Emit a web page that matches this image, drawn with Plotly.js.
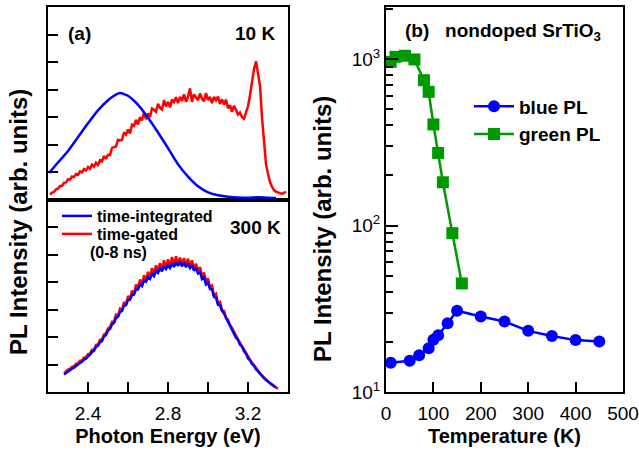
<!DOCTYPE html>
<html>
<head>
<meta charset="utf-8">
<script src="https://cdn.plot.ly/plotly-3.0.1.min.js"></script>
<style>html,body{margin:0;padding:0;background:#fff;}#chart{width:639px;height:453px;}</style>
</head>
<body>
<div id="chart"></div>
<script>
// ---- Panel (a), 10 K ----
const energy10KBlue = [2.205,2.25,2.30,2.35,2.40,2.45,2.50,2.53,2.56,2.58,2.60,2.63,2.66,2.70,2.75,2.80,2.85,2.90,2.95,3.00,3.05,3.10,3.15,3.20,3.25,3.30,3.34];
const pl10KBlue = [0.98,1.36,1.78,2.28,2.78,3.25,3.62,3.78,3.88,3.84,3.78,3.60,3.37,2.98,2.45,1.88,1.30,0.85,0.50,0.28,0.17,0.12,0.09,0.08,0.10,0.08,0.07];

const energy10KRed = [2.21,2.22,2.23,2.24,2.25,2.26,2.27,2.28,2.29,2.30,2.31,2.32,2.33,2.34,2.35,2.36,2.37,2.38,2.39,2.40,
2.41,2.42,2.43,2.44,2.45,2.46,2.47,2.48,2.49,2.50,2.51,2.52,2.53,2.54,2.55,2.56,2.57,2.58,2.59,2.60,
2.61,2.62,2.63,2.64,2.65,2.66,2.67,2.68,2.69,2.70,2.71,2.72,2.73,2.74,2.75,2.76,2.77,2.78,2.79,2.80,
2.81,2.82,2.83,2.84,2.85,2.86,2.87,2.88,2.89,2.90,2.91,2.92,2.93,2.94,2.95,2.96,2.97,2.98,2.99,3.00,
3.01,3.02,3.03,3.04,3.05,3.06,3.07,3.08,3.09,3.10,3.11,3.12,3.13,3.14,3.15,3.16,3.17,3.18,3.19,3.20,
3.21,3.22,3.23,3.24,3.25,3.26,3.27,3.28,3.29,3.30,3.31,3.32,3.33,3.34,3.35,3.36,3.37,3.38,3.39];
const pl10KRed = [0.20,0.27,0.29,0.39,0.41,0.51,0.51,0.62,0.64,0.75,0.74,0.85,0.83,0.94,0.91,1.04,1.00,1.12,1.07,1.20,
1.13,1.28,1.21,1.35,1.27,1.44,1.40,1.60,1.49,1.64,1.63,1.89,1.92,1.94,2.18,2.16,2.18,2.45,2.37,2.56,
2.41,2.73,2.69,2.91,2.74,3.00,2.89,3.16,2.93,3.14,3.00,3.32,3.27,3.20,3.49,3.34,3.28,3.62,3.39,3.56,
3.36,3.64,3.55,3.73,3.51,3.74,3.59,3.83,3.56,3.74,4.05,3.56,3.83,3.74,3.62,3.86,3.67,3.58,3.88,3.62,
3.74,3.51,3.74,3.62,3.75,3.48,3.65,3.46,3.64,3.33,3.44,3.20,3.42,3.27,3.10,3.17,3.00,2.95,3.20,3.40,
3.80,4.30,4.75,5.03,4.60,4.15,3.00,2.16,1.30,0.95,0.65,0.48,0.36,0.30,0.27,0.24,0.22,0.26,0.30];

// ---- Panel (a), 300 K ----
const energy300KBlue = [2.28,2.29,2.30,2.31,2.32,2.33,2.34,2.35,2.36,2.37,2.38,2.39,2.40,2.41,2.42,2.43,2.44,2.45,2.46,2.47,
2.48,2.49,2.50,2.51,2.52,2.53,2.54,2.55,2.56,2.57,2.58,2.59,2.60,2.61,2.62,2.63,2.64,2.65,2.66,2.67,
2.68,2.69,2.70,2.71,2.72,2.73,2.74,2.75,2.76,2.77,2.78,2.79,2.80,2.81,2.82,2.83,2.84,2.85,2.86,2.87,
2.88,2.89,2.90,2.91,2.92,2.93,2.94,2.95,2.96,2.97,2.98,2.99,3.00,3.01,3.02,3.03,3.04,3.05,3.06,3.07,
3.08,3.09,3.10,3.11,3.12,3.13,3.14,3.15,3.16,3.17,3.18,3.19,3.20,3.21,3.22,3.23,3.24,3.25,3.26,3.27,
3.28,3.29,3.30,3.31,3.32,3.33,3.34];
const pl300KBlue = [0.64,0.70,0.75,0.79,0.85,0.89,0.96,1.00,1.06,1.10,1.18,1.21,1.30,1.35,1.46,1.50,1.64,1.68,1.82,1.86,
2.02,2.08,2.24,2.30,2.46,2.52,2.70,2.74,2.92,2.96,3.14,3.16,3.35,3.36,3.54,3.55,3.75,3.74,3.92,3.86,
4.06,4.02,4.18,4.12,4.30,4.22,4.42,4.34,4.50,4.40,4.58,4.48,4.62,4.52,4.68,4.56,4.72,4.60,4.74,4.58,
4.72,4.55,4.68,4.52,4.62,4.42,4.52,4.32,4.38,4.12,4.18,3.92,3.98,3.76,3.74,3.46,3.44,3.18,3.16,2.96,
2.86,2.68,2.56,2.42,2.26,2.16,1.98,1.90,1.72,1.66,1.48,1.40,1.22,1.16,1.02,0.96,0.82,0.76,0.66,0.58,
0.50,0.44,0.38,0.32,0.26,0.21,0.16];

const energy300KRed = [2.28,2.29,2.30,2.31,2.32,2.33,2.34,2.35,2.36,2.37,2.38,2.39,2.40,2.41,2.42,2.43,2.44,2.45,2.46,2.47,
2.48,2.49,2.50,2.51,2.52,2.53,2.54,2.55,2.56,2.57,2.58,2.59,2.60,2.61,2.62,2.63,2.64,2.65,2.66,2.67,
2.68,2.69,2.70,2.71,2.72,2.73,2.74,2.75,2.76,2.77,2.78,2.79,2.80,2.81,2.82,2.83,2.84,2.85,2.86,2.87,
2.88,2.89,2.90,2.91,2.92,2.93,2.94,2.95,2.96,2.97,2.98,2.99,3.00,3.01,3.02,3.03,3.04,3.05,3.06,3.07,
3.08,3.09,3.10,3.11,3.12,3.13,3.14,3.15,3.16,3.17,3.18,3.19,3.20,3.21,3.22,3.23,3.24,3.25,3.26,3.27,
3.28,3.29,3.30,3.31,3.32,3.33,3.34,3.35];
const pl300KRed = [0.70,0.74,0.82,0.84,0.92,0.94,1.03,1.05,1.14,1.15,1.26,1.27,1.38,1.40,1.54,1.55,1.72,1.73,1.90,1.92,
2.10,2.14,2.32,2.36,2.56,2.56,2.82,2.78,3.04,2.98,3.28,3.18,3.50,3.38,3.70,3.56,3.92,3.76,4.10,3.90,
4.26,4.04,4.38,4.16,4.52,4.28,4.62,4.40,4.70,4.46,4.80,4.52,4.84,4.58,4.92,4.62,4.95,4.66,4.90,4.64,
4.88,4.62,4.86,4.58,4.80,4.48,4.68,4.38,4.56,4.20,4.36,4.00,4.14,3.82,3.88,3.52,3.58,3.22,3.28,2.98,
2.96,2.70,2.64,2.44,2.34,2.18,2.06,1.92,1.80,1.68,1.56,1.42,1.28,1.18,1.06,0.98,0.86,0.78,0.68,0.60,
0.52,0.45,0.38,0.32,0.26,0.21,0.16,0.12];

// ---- Panel (b) ----
const tempBlue = [10,50,70,90,100,110,130,150,200,250,300,350,400,450];
const intensityBlue = [15.0,15.4,16.6,18.3,20.6,21.9,25.9,30.8,28.4,26.5,23.3,21.7,20.5,20.1];
const tempGreen = [10,20,40,60,80,90,100,110,120,140,160];
const intensityGreen = [963,1032,1047,995,747,636,405,273,182,90,44.9];

const energyTickVals = [2.4, 2.8, 3.2];
const energyTickText = ['2.4', '2.8', '3.2'];
const logTickVals = [10, 100, 1000];
const logTickText = ['10<sup>1</sup>', '10<sup>2</sup>', '10<sup>3</sup>'];

const FONT = 'Liberation Sans, Arial, Helvetica, sans-serif';
const BLUE = '#0000ff', RED = '#ff0000', GREEN = '#009900';

const traces = [
  {x: energy10KRed, y: pl10KRed, xaxis: 'x2', yaxis: 'y2', mode: 'lines', line: {color: RED, width: 2.5}, showlegend: false},
  {x: energy10KBlue, y: pl10KBlue, xaxis: 'x2', yaxis: 'y2', mode: 'lines', line: {color: BLUE, width: 2.5, shape: 'spline'}, showlegend: false},
  {x: energy300KRed, y: pl300KRed, xaxis: 'x', yaxis: 'y', mode: 'lines', line: {color: RED, width: 2.5}, name: 'time-gated', legend: 'legend2'},
  {x: energy300KBlue, y: pl300KBlue, xaxis: 'x', yaxis: 'y', mode: 'lines', line: {color: BLUE, width: 2.5}, name: 'time-integrated', legend: 'legend'},
  {x: tempBlue, y: intensityBlue, xaxis: 'x3', yaxis: 'y3', mode: 'lines+markers', line: {color: BLUE, width: 2.5}, marker: {color: BLUE, size: 12, symbol: 'circle'}, name: 'blue PL', legend: 'legend3'},
  {x: tempGreen, y: intensityGreen, xaxis: 'x3', yaxis: 'y3', mode: 'lines+markers', line: {color: GREEN, width: 2.5}, marker: {color: GREEN, size: 12, symbol: 'square'}, name: 'green PL', legend: 'legend3'}
];

const px = v => v / 639;
const py = v => 1 - v / 453;

const baseAxis = {showline: true, linewidth: 2, linecolor: 'black', mirror: true, ticks: 'inside', ticklen: 10, tickwidth: 2, tickcolor: 'black', showgrid: false, zeroline: false, tickfont: {family: FONT, size: 19, color: 'black'}};

const layout = {
  width: 639, height: 453,
  margin: {l: 0, r: 0, t: 0, b: 0},
  paper_bgcolor: 'white', plot_bgcolor: 'white',
  font: {family: FONT, color: 'black'},
  xaxis: Object.assign({}, baseAxis, {domain: [px(48), px(288)], anchor: 'y', range: [2.2, 3.4], tickmode: 'array', tickvals: energyTickVals, ticktext: energyTickText, ticklabelstandoff: 3,
    minor: {tickvals: [2.6, 3.0], ticks: 'inside', ticklen: 10, tickwidth: 2, tickcolor: 'black'},
    title: {text: 'Photon Energy (eV)', font: {family: FONT, size: 20, weight: 'bold', color: 'black'}, standoff: 6}}),
  xaxis2: Object.assign({}, baseAxis, {domain: [px(48), px(288)], anchor: 'y2', range: [2.2, 3.4], ticks: '', showticklabels: false}),
  yaxis: Object.assign({}, baseAxis, {domain: [py(392), py(200)], anchor: 'x', range: [0, 7], tickmode: 'array', tickvals: [1, 2, 3, 4, 5, 6], showticklabels: false}),
  yaxis2: Object.assign({}, baseAxis, {domain: [py(200), py(7)], anchor: 'x2', range: [0, 7], tickmode: 'array', tickvals: [1, 2, 3, 4, 5, 6], showticklabels: false}),
  xaxis3: Object.assign({}, baseAxis, {domain: [px(386), px(623)], anchor: 'y3', range: [0, 500], dtick: 100, tick0: 0, ticklabelstandoff: 3,
    title: {text: 'Temperature (K)', font: {family: FONT, size: 20, weight: 'bold', color: 'black'}, standoff: 6}}),
  yaxis3: Object.assign({}, baseAxis, {domain: [py(392), py(7)], anchor: 'x3', type: 'log', range: [1, 3.313], tickmode: 'array', tickvals: logTickVals, ticktext: logTickText, ticklen: 12,
    minor: {tickvals: [20,30,40,50,60,70,80,90,200,300,400,500,600,700,800,900,2000], ticks: 'inside', ticklen: 7, tickwidth: 2, tickcolor: 'black'}}),
  legend: {x: px(57), xanchor: 'left', y: py(216), yanchor: 'middle', bgcolor: 'rgba(0,0,0,0)', font: {family: FONT, size: 16, weight: 'bold', color: 'black'}},
  legend2: {x: px(57), xanchor: 'left', y: py(234), yanchor: 'middle', bgcolor: 'rgba(0,0,0,0)', font: {family: FONT, size: 16, weight: 'bold', color: 'black'}},
  legend3: {x: px(469), xanchor: 'left', y: py(120.5), yanchor: 'middle', bgcolor: 'rgba(0,0,0,0)', itemwidth: 40, font: {family: FONT, size: 19, weight: 'bold', color: 'black'}},
  annotations: [
    {text: '(a)', x: px(66), y: py(33), xref: 'paper', yref: 'paper', xanchor: 'left', yanchor: 'middle', showarrow: false, font: {family: FONT, size: 19, weight: 'bold'}},
    {text: '10 K', x: px(277), y: py(33), xref: 'paper', yref: 'paper', xanchor: 'right', yanchor: 'middle', showarrow: false, font: {family: FONT, size: 19, weight: 'bold'}},
    {text: '300 K', x: px(255), y: py(227), xref: 'paper', yref: 'paper', xanchor: 'center', yanchor: 'middle', showarrow: false, font: {family: FONT, size: 19, weight: 'bold'}},
    {text: '(0-8 ns)', x: px(88), y: py(253), xref: 'paper', yref: 'paper', xanchor: 'left', yanchor: 'middle', showarrow: false, font: {family: FONT, size: 16, weight: 'bold'}},
    {text: 'PL Intensity (arb. units)', x: px(18), y: py(222), xref: 'paper', yref: 'paper', xanchor: 'center', yanchor: 'middle', textangle: -90, showarrow: false, font: {family: FONT, size: 24, weight: 'bold'}},
    {text: 'PL Intensity (arb. units)', x: px(322), y: py(229), xref: 'paper', yref: 'paper', xanchor: 'center', yanchor: 'middle', textangle: -90, showarrow: false, font: {family: FONT, size: 24, weight: 'bold'}},
    {text: '(b)&nbsp;&nbsp; nondoped SrTiO<sub>3</sub>', x: px(403), y: py(32), xref: 'paper', yref: 'paper', xanchor: 'left', yanchor: 'middle', showarrow: false, font: {family: FONT, size: 19, weight: 'bold'}}
  ]
};

Plotly.newPlot('chart', traces, layout, {displayModeBar: false, staticPlot: true});
</script>
</body>
</html>
